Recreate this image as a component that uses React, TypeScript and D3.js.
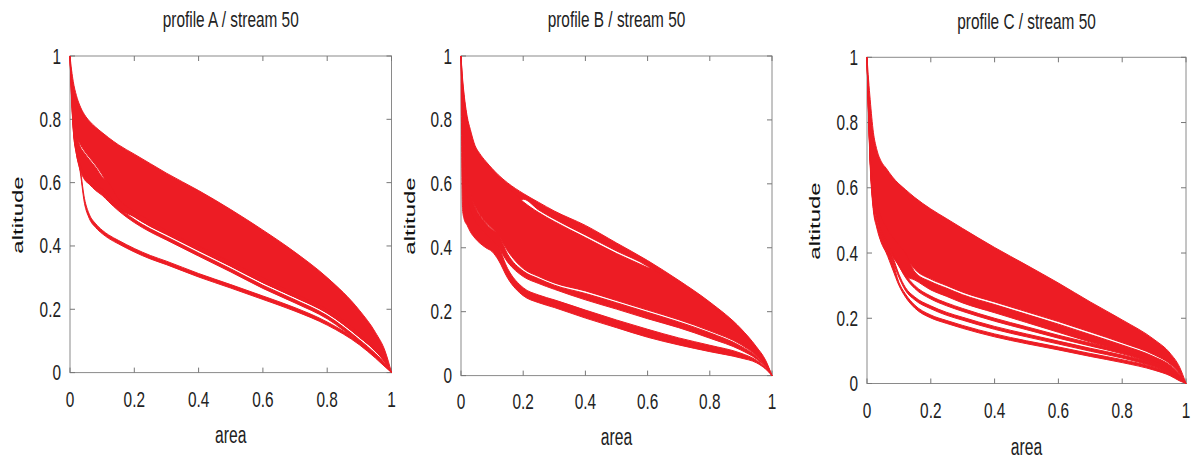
import React from 'react';
import * as d3 from 'd3';

// ---------- shared data ----------
const AREA_GRID = [0, 0.005, 0.01, 0.02, 0.03, 0.045, 0.06, 0.08, 0.1, 0.12, 0.15, 0.2, 0.25, 0.3, 0.4, 0.5, 0.6, 0.7, 0.8, 0.9, 0.95, 0.98, 1];
const TICK_VALUES = [0, 0.2, 0.4, 0.6, 0.8, 1];
const TICK_LABELS = ['0', '0.2', '0.4', '0.6', '0.8', '1'];
const TITLES = ['profile A / stream 50', 'profile B / stream 50', 'profile C / stream 50'];
const X_LABEL = 'area';
const Y_LABEL = 'altitude';

// ---------- profile A (altitude at each AREA_GRID value) ----------
const A_top = [1, .955, .92, .875, .845, .815, .795, .775, .758, .742, .72, .69, .66, .63, .575, .515, .45, .38, .30, .197, .127, .068, 0];
const A_streakUpper = [1, .9, .82, .75, .725, .70, .68, .655, .625, .59, .525, .492, .462, .437, .386, .336, .284, .238, .188, .112, .068, .032, 0];
const A_streakLower = [1, .9, .825, .755, .718, .693, .673, .648, .618, .60, .55, .51, .48, .45, .40, .35, .30, .25, .20, .125, .075, .035, 0];
const A_bandLower = [1, .88, .78, .70, .655, .62, .605, .585, .57, .55, .525, .492, .462, .437, .386, .336, .284, .238, .188, .112, .068, .032, 0];
const A_thinTop = [1, .89, .79, .71, .665, .63, .615, .595, .58, .56, .525, .484, .454, .429, .378, .328, .276, .23, .18, .104, .06, .028, 0];
const A_thinBottom = [1, .87, .77, .69, .645, .61, .595, .575, .56, .54, .512, .474, .444, .419, .368, .318, .266, .22, .17, .095, .053, .024, 0];
const A_outlierTop = [1, .87, .78, .70, .655, .55, .5, .47, .45, .435, .418, .392, .37, .352, .313, .278, .242, .205, .16, .097, .055, .025, 0];
const A_outlierBottom = [1, .86, .77, .69, .645, .535, .487, .458, .439, .424, .407, .381, .359, .341, .302, .267, .231, .194, .15, .088, .046, .018, 0];

// ---------- profile B ----------
const B_top = [1, .93, .88, .81, .77, .72, .695, .67, .648, .628, .603, .57, .542, .515, .47, .415, .36, .298, .23, .147, .09, .047, 0];
const B_streakUpper = [1, .9, .84, .76, .71, .66, .63, .60, .575, .555, .52, .552, .518, .49, .44, .39, .342, .26, .19, .11, .065, .032, 0];
const B_streakLower = [1, .92, .87, .80, .76, .71, .685, .66, .635, .615, .59, .544, .51, .482, .432, .382, .338, .29, .222, .14, .083, .042, 0];
const B_bandLower = [1, .85, .72, .62, .57, .53, .505, .48, .46, .44, .39, .335, .31, .29, .265, .235, .205, .175, .14, .097, .062, .031, 0];
const B_midTop = [1, .86, .73, .63, .575, .527, .502, .477, .457, .442, .38, .327, .303, .283, .257, .228, .198, .168, .134, .092, .06, .03, 0];
const B_midBottom = [1, .80, .65, .55, .51, .48, .46, .44, .42, .40, .355, .31, .288, .27, .237, .208, .178, .15, .117, .08, .052, .026, 0];
const B_lowTop = [1, .81, .66, .56, .52, .485, .462, .442, .422, .402, .335, .275, .252, .237, .205, .174, .145, .118, .095, .07, .048, .024, 0];
const B_lowBottom = [1, .52, .49, .47, .45, .43, .415, .40, .388, .362, .305, .25, .228, .213, .18, .15, .12, .096, .075, .055, .04, .02, 0];

// ---------- profile C ----------
const C_top = [1, .93, .87, .77, .72, .68, .66, .633, .612, .595, .57, .535, .505, .475, .417, .363, .308, .25, .195, .135, .093, .05, 0];
const C_bandLower = [1, .85, .72, .6, .55, .5, .47, .44, .415, .39, .35, .32, .30, .28, .25, .22, .19, .158, .125, .088, .06, .03, 0];
const C_midTop = [1, .86, .73, .61, .56, .51, .48, .45, .425, .40, .342, .312, .292, .272, .242, .212, .182, .15, .118, .082, .056, .028, 0];
const C_midBottom = [1, .83, .69, .56, .51, .465, .435, .395, .36, .33, .317, .287, .267, .247, .217, .187, .157, .127, .097, .065, .045, .023, 0];
const C_o1Top = [1, .84, .7, .57, .52, .47, .44, .40, .37, .335, .30, .268, .247, .23, .2, .174, .148, .124, .1, .068, .046, .024, 0];
const C_o1Bottom = [1, .83, .69, .56, .51, .461, .431, .391, .361, .326, .291, .259, .238, .221, .191, .165, .139, .115, .091, .059, .037, .017, 0];
const C_o2Top = [1, .83, .69, .55, .50, .462, .433, .39, .335, .295, .265, .238, .218, .203, .175, .152, .13, .108, .087, .06, .04, .02, 0];
const C_o2Bottom = [1, .82, .68, .54, .49, .451, .421, .376, .326, .286, .256, .229, .209, .194, .166, .143, .121, .099, .078, .051, .031, .013, 0];
const C_o3Top = [1, .82, .685, .545, .495, .453, .423, .374, .31, .275, .24, .21, .193, .178, .152, .131, .112, .092, .073, .05, .033, .016, 0];
const C_o3Bottom = [1, .81, .67, .53, .48, .431, .401, .351, .301, .266, .231, .201, .184, .169, .143, .122, .103, .083, .064, .041, .024, .008, 0];

const BUNDLES_A: [number[], number[]][] = [
  [A_top, A_streakUpper],
  [A_streakLower, A_bandLower],
  [A_thinTop, A_thinBottom],
  [A_outlierTop, A_outlierBottom],
];
const BUNDLES_B: [number[], number[]][] = [
  [B_top, B_streakUpper],
  [B_streakLower, B_bandLower],
  [B_midTop, B_midBottom],
  [B_lowTop, B_lowBottom],
];
const BUNDLES_C: [number[], number[]][] = [
  [C_top, C_bandLower],
  [C_midTop, C_midBottom],
  [C_o1Top, C_o1Bottom],
  [C_o2Top, C_o2Bottom],
  [C_o3Top, C_o3Bottom],
];

// ---------- layout ----------
const W = 1193;
const H = 459;
const RED = '#ed1c24';
const FONT = "'Liberation Sans', Arial, sans-serif";

interface Layout {
  left: number; right: number; top: number; bottom: number;
  titleY: number; xLabelY: number; yLabelX: number; yLabelY: number; xTickY: number;
}

const LAYOUTS: Layout[] = [
  { left: 70, right: 391.5, top: 56, bottom: 372.6, titleY: 27, xLabelY: 443, yLabelX: 22.7, yLabelY: 215, xTickY: 406.5 },
  { left: 461, right: 772, top: 56, bottom: 375.6, titleY: 27, xLabelY: 445, yLabelX: 415, yLabelY: 216, xTickY: 408.5 },
  { left: 867, right: 1186, top: 57.3, bottom: 383.5, titleY: 28.5, xLabelY: 455, yLabelX: 820, yLabelY: 221, xTickY: 418 },
];

function Panel({ L, bundles, title }: { L: Layout; bundles: [number[], number[]][]; title: string }) {
  const x = d3.scaleLinear().domain([0, 1]).range([L.left, L.right]);
  const y = d3.scaleLinear().domain([0, 1]).range([L.bottom, L.top]);
  const idx = AREA_GRID.map((_, i) => i);
  const tickLen = 5;
  return (
    <g>
      <rect x={L.left} y={L.top} width={L.right - L.left} height={L.bottom - L.top} fill="none" stroke="#8a8a8a" strokeWidth={1} />
      {TICK_VALUES.map((t, i) => (
        <g key={'t' + i}>
          <line x1={x(t)} x2={x(t)} y1={L.bottom} y2={L.bottom - tickLen} stroke="#777" />
          <line x1={x(t)} x2={x(t)} y1={L.top} y2={L.top + tickLen} stroke="#777" />
          <line x1={L.left} x2={L.left + tickLen} y1={y(t)} y2={y(t)} stroke="#777" />
          <line x1={L.right} x2={L.right - tickLen} y1={y(t)} y2={y(t)} stroke="#777" />
          <text transform={`translate(${x(t)},${L.xTickY}) scale(0.7,1)`} textAnchor="middle" fontFamily={FONT} fontSize={22} fill="#222">{TICK_LABELS[i]}</text>
          <text transform={`translate(${L.left - 9},${y(t) + 7.5}) scale(0.7,1)`} textAnchor="end" fontFamily={FONT} fontSize={22} fill="#222">{TICK_LABELS[i]}</text>
        </g>
      ))}
      {bundles.map(([topArr, botArr], bi) => {
        const area = d3.area<number>()
          .x((i) => x(AREA_GRID[i]))
          .y0((i) => y(botArr[i]))
          .y1((i) => y(topArr[i]))
          .curve(d3.curveMonotoneX);
        const lineTop = d3.line<number>().x((i) => x(AREA_GRID[i])).y((i) => y(topArr[i])).curve(d3.curveMonotoneX);
        const lineBot = d3.line<number>().x((i) => x(AREA_GRID[i])).y((i) => y(botArr[i])).curve(d3.curveMonotoneX);
        return (
          <g key={'b' + bi}>
            <path d={area(idx) || ''} fill={RED} />
            <path d={lineTop(idx) || ''} fill="none" stroke={RED} strokeWidth={1} />
            <path d={lineBot(idx) || ''} fill="none" stroke={RED} strokeWidth={1} />
          </g>
        );
      })}
      <text transform={`translate(${(L.left + L.right) / 2},${L.titleY}) scale(0.7,1)`} textAnchor="middle" fontFamily={FONT} fontSize={22} fill="#222">{title}</text>
      <text transform={`translate(${(L.left + L.right) / 2},${L.xLabelY}) scale(0.68,1)`} textAnchor="middle" fontFamily={FONT} fontSize={23} fill="#222">{X_LABEL}</text>
      <text transform={`translate(${L.yLabelX},${L.yLabelY}) scale(0.62,1) rotate(-90)`} textAnchor="middle" fontFamily={FONT} fontSize={24} fill="#111">{Y_LABEL}</text>
    </g>
  );
}

export default function App() {
  const all = [BUNDLES_A, BUNDLES_B, BUNDLES_C];
  return (
    <svg width={W} height={H} style={{ position: 'absolute', left: 0, top: 0, background: '#fff' }}>
      <rect x={0} y={0} width={W} height={H} fill="#fff" />
      {LAYOUTS.map((L, i) => (
        <Panel key={i} L={L} bundles={all[i]} title={TITLES[i]} />
      ))}
    </svg>
  );
}
